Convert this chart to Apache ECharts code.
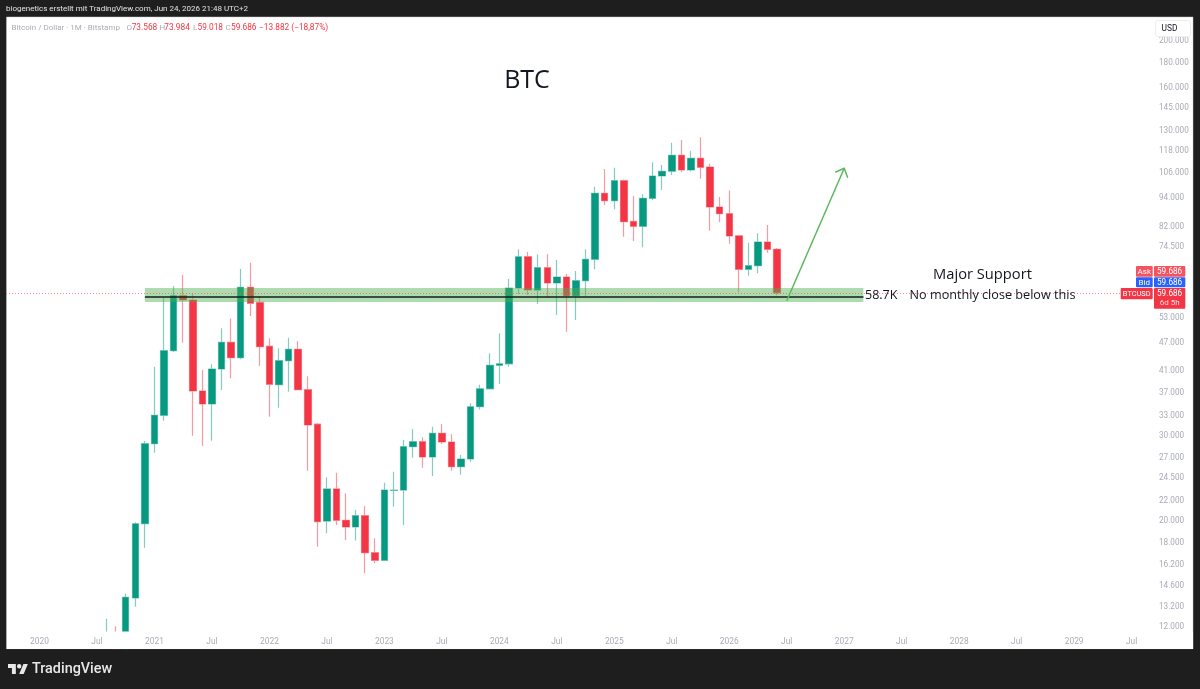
<!DOCTYPE html>
<html>
<head>
<meta charset="utf-8">
<style>html,body{margin:0;padding:0;background:#1e1e1e;overflow:hidden}#c{width:1200px;height:689px}</style>
<script src="https://cdn.jsdelivr.net/npm/echarts@6/dist/echarts.min.js"></script>
</head>
<body>
<div id="c"></div>
<script>
// Months shown on the axis, Oct 2019 .. Aug 2029
const categories = [];
for (let y = 2019, m = 10; y < 2029 || m <= 8; ) {
  categories.push(y + '-' + String(m).padStart(2, '0'));
  m++; if (m > 12) { m = 1; y++; }
}
const firstCandle = '2020-08';
const opens = [11350,11650,10780,13800,19700,28930,33156,45213,58876,57670,37260,35006,41410,47080,43720,61300,57000,46200,38400,43100,45520,37500,31780,19950,23280,20030,19395,20475,17145,16530,23130,23160,28520,29210,27140,30410,29170,25910,26880,34550,37650,42150,42450,61100,71000,60500,67340,62580,64400,58876,63270,70120,96240,92900,102270,84100,82150,93970,104590,107000,115520,107650,113870,109200,90130,87300,78500,66830,68000,76190,73568];
const closes = [11650,10780,13839,19700,28930,33156,45213,58876,57670,37260,35006,41410,47080,43720,61300,56760,46090,38480,43100,45520,37490,31650,19890,23280,20030,19395,20475,17145,16530,23165,23160,28520,29210,27140,30410,29170,25910,26880,34550,37650,42150,42450,61100,70990,60510,67340,62580,64400,58876,63270,70120,96240,92900,102270,84000,82150,93970,104590,106980,115520,107650,113870,109040,90130,87270,78420,66830,68000,76190,73568,59686];
const lows = [11000,9900,10400,13229,17557,27706,32306,44950,47000,30060,28620,29350,37440,39600,43380,53410,42000,32940,34390,37130,37390,25410,17640,18815,19580,18220,18180,15530,16290,16500,21380,19580,27050,25780,24770,28890,25410,24930,26540,34100,37600,38530,41870,59360,59070,56570,58310,53660,49540,52380,58876,66830,91000,89140,78160,76560,74270,93200,97790,105090,106620,106900,103230,80440,83750,75570,59850,64810,65560,72370,59018];
const highs = [12480,12050,14100,19850,29300,41870,58430,61680,65030,59560,41210,42350,50340,52820,66920,68990,58790,47990,45730,48120,47370,39980,31950,24620,25170,22800,21050,21450,18370,23990,25290,29450,31040,29830,31390,31800,30270,27400,35120,38400,44650,49150,63790,73570,72620,71820,71900,69880,65340,66290,73570,99360,108150,108850,102800,95010,95800,111700,110260,122720,124310,117930,125940,110950,94560,97660,78600,75930,79430,82670,73984];

const priceTicks = [200000,180000,160000,145000,130000,118000,106000,94000,82000,74500,53000,47000,41000,37000,33000,30000,27000,24500,22000,20000,18000,16200,14600,13200,12000];
const axisMin = 11772, axisMax = 224400;

const supportLevel = 58700, lastPrice = 59686;
const zoneTop = 61100, zoneBottom = 57120;
const zoneFrom = '2020-12', zoneTo = '2027-03';
const arrowFrom = ['2026-07', 57480], arrowTo = ['2027-01', 108540];

const UP = '#089981', DOWN = '#f23645', GREY = '#a9acb6';
const FONT = '"Open Sans", "Noto Sans", sans-serif';
const SMALL = 'Roboto, "Liberation Sans", sans-serif';

const pad = categories.indexOf(firstCandle);
const candleData = categories.map((c, i) => {
  const k = i - pad;
  return (k >= 0 && k < opens.length) ? [opens[k], closes[k], lows[k], highs[k]] : '-';
});
const fmtPrice = v => String(Math.round(v)).replace(/\B(?=(\d{3})+$)/g, '.');

echarts.graphic.registerShape('tvLogo', echarts.graphic.extendPath(
  'M14 22H7V11H0V4h14v18zM28 22h-8l7.5-18h8L28 22zM20 4a4 4 0 1 0 0 8a4 4 0 1 0 0-8z', {}));

const txt = (x, y, text, fill, size, extra) => ({
  type: 'text', x, y, z: 30,
  style: Object.assign({ text, fill, fontSize: size, fontFamily: SMALL, verticalAlign: 'middle' }, extra || {})
});
const mid = { align: 'center' };
const box = (x, y, w, h, fill) => ({ type: 'rect', z: 29, shape: { x, y, width: w, height: h, r: 1 }, style: { fill } });

const chart = echarts.init(document.getElementById('c'), null, { renderer: 'canvas' });
chart.setOption({
  animation: false,
  backgroundColor: '#1e1e1e',
  grid: { left: 6, right: 54, top: 17, height: 614, containLabel: false },
  xAxis: {
    type: 'category', data: categories, boundaryGap: true, z: 10,
    axisLine: { show: false }, axisTick: { show: false }, splitLine: { show: false },
    axisLabel: {
      color: GREY, fontSize: 8.4, margin: 6.5, fontFamily: SMALL, hideOverlap: false,
      interval: (i, name) => /-(01|07)$/.test(name),
      formatter: name => name.endsWith('-01') ? name.slice(0, 4) : 'Jul'
    }
  },
  yAxis: {
    type: 'log', logBase: 10, position: 'right', min: axisMin, max: axisMax, scale: true,
    axisLine: { show: false }, axisTick: { show: false }, splitLine: { show: false },
    axisLabel: { customValues: priceTicks, color: GREY, fontSize: 8.2, margin: 13, padding: [5, 0, 0, 0], fontFamily: SMALL, formatter: fmtPrice, hideOverlap: false }
  },
  series: [
    {
      type: 'candlestick', data: candleData, barWidth: 7, clip: true, z: 2,
      itemStyle: { color: UP, color0: DOWN, borderColor: 'rgba(8,153,129,0.5)', borderColor0: 'rgba(242,54,69,0.5)', borderWidth: 1.2 }
    },
    {
      type: 'line', data: [], z: 5, silent: true,
      markArea: {
        silent: true, z: 5,
        itemStyle: { color: 'rgba(76,175,80,0.45)' },
        data: [[{ xAxis: zoneFrom, yAxis: zoneTop }, { xAxis: zoneTo, yAxis: zoneBottom }]]
      },
      markLine: {
        silent: true, symbol: 'none', z: 6, animation: false,
        label: { show: false },
        data: [
          { yAxis: lastPrice, lineStyle: { color: '#f7525f', opacity: 0.7, type: [1, 2], width: 1 } },
          [
            { coord: [zoneFrom, supportLevel], lineStyle: { color: '#10201a', type: 'solid', width: 1.6 } },
            { coord: [zoneTo, supportLevel] }
          ]
        ]
      }
    },
    {
      type: 'custom', z: 7, silent: true, clip: false,
      data: [[categories.indexOf(arrowFrom[0]), arrowFrom[1], categories.indexOf(arrowTo[0]), arrowTo[1]]],
      encode: { x: [0, 2], y: [1, 3] },
      renderItem: (params, api) => {
        const a = api.coord([api.value(0), api.value(1)]);
        const b = api.coord([api.value(2), api.value(3)]);
        const st = { stroke: '#5cb85f', lineWidth: 1.5, fill: null };
        return { type: 'group', children: [
          { type: 'line', shape: { x1: a[0], y1: a[1], x2: b[0], y2: b[1] }, style: st },
          { type: 'polyline', shape: { points: [[b[0] - 9, b[1] + 4], b, [b[0] + 3.5, b[1] + 9.5]] }, style: st }
        ] };
      }
    }
  ],
  graphic: [
    { type: 'rect', z: -1, shape: { x: 6.5, y: 17, width: 1186.5, height: 632 }, style: { fill: '#ffffff', stroke: '#c8c8c8', lineWidth: 0.5 } },
    // candles that run below the visible price range are cut off at the pane edge
    { type: 'rect', z: 3, shape: { x: 7, y: 631.5, width: 1186, height: 17.5 }, style: { fill: '#ffffff' } },
    { type: 'rect', z: 3, shape: { x: 0, y: 649.3, width: 1200, height: 39.7 }, style: { fill: '#1e1e1e' } },
    txt(6, 9, 'biogenetics erstellt mit TradingView.com, Jun 24, 2026 21:48 UTC+2', '#e4e4e4', 8),
    txt(11.5, 27.5, 'Bitcoin / Dollar · 1M · Bitstamp', GREY, 8),
    txt(126.5, 27.5, 'O', GREY, 8), txt(131.7, 27.5, '73.568', DOWN, 8.3),
    txt(159.5, 27.5, 'H', GREY, 8), txt(164.3, 27.5, '73.984', DOWN, 8.3),
    txt(193, 27.5, 'L', GREY, 8), txt(197.5, 27.5, '59.018', DOWN, 8.3),
    txt(225.5, 27.5, 'C', GREY, 8), txt(231, 27.5, '59.686', DOWN, 8.3),
    txt(259, 27.5, '−13.882 (−18,87%)', DOWN, 8.3),
    { type: 'rect', z: 29, shape: { x: 1155.5, y: 20.5, width: 35, height: 16, r: 2 }, style: { fill: '#ffffff', stroke: '#eeeeee', lineWidth: 1 } },
    txt(1161.5, 28.5, 'USD', '#131722', 8.4),
    txt(527, 81, 'BTC', '#131722', 25, { align: 'center', fontFamily: FONT }),
    txt(982.5, 275, 'Major Support', '#131722', 14.7, { align: 'center', fontFamily: FONT }),
    txt(865, 295, '58.7K', '#131722', 12.5, { fontFamily: FONT }),
    txt(992.5, 295, 'No monthly close below this', '#131722', 12.65, { align: 'center', fontFamily: FONT }),
    box(1136, 266, 16.7, 10.7, '#f7525f'), box(1154, 266, 31.3, 10.7, '#f7525f'),
    box(1136, 277.3, 16.7, 10, '#2962ff'), box(1154, 277.3, 31.3, 10, '#2962ff'),
    box(1120.7, 288, 32, 11.3, DOWN), box(1154, 288, 31.3, 20.7, DOWN),
    txt(1144.3, 271.5, 'Ask', '#fff', 8, mid),
    txt(1169.6, 271.5, '59.686', '#fff', 8.2, mid),
    txt(1144.3, 282.5, 'Bid', '#fff', 8, mid),
    txt(1169.6, 282.5, '59.686', '#fff', 8.2, mid),
    txt(1136.7, 293.7, 'BTCUSD', '#fff', 7.4, mid),
    txt(1169.6, 293.7, '59.686', '#fff', 8.2, mid),
    txt(1169.6, 303, '6d 5h', '#ffd7da', 8, mid),
    { type: 'tvLogo', x: 8, y: 661.8, scaleX: 0.56, scaleY: 0.56, z: 30, style: { fill: '#e8e8e8' } },
    txt(32, 669.5, 'TradingView', '#e8e8e8', 14.4, { fontFamily: 'Roboto, sans-serif', fontWeight: 500 })
  ]
});
</script>
</body>
</html>
